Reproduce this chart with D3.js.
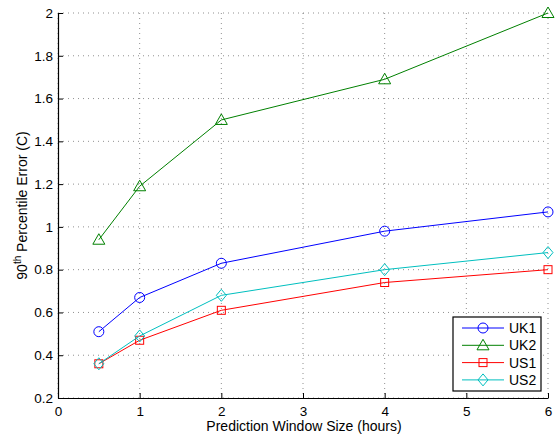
<!DOCTYPE html>
<html><head><meta charset="utf-8">
<script src="https://cdn.jsdelivr.net/npm/d3@7"></script>
<style>body{margin:0;background:#fff}svg{display:block}text{font-family:"Liberation Sans",Arial,sans-serif}</style>
</head><body><svg id="c" width="560" height="437"></svg>
<script>
const xValues = [0.5, 1, 2, 4, 6];
const seriesNames = ["UK1", "UK2", "US1", "US2"];
const uk1 = [0.51, 0.67, 0.83, 0.98, 1.07];
const uk2 = [0.94, 1.19, 1.50, 1.69, 2.00];
const us1 = [0.36, 0.47, 0.61, 0.74, 0.80];
const us2 = [0.36, 0.49, 0.68, 0.80, 0.88];
const xTicks = [0, 1, 2, 3, 4, 5, 6];
const yTicks = [0.2, 0.4, 0.6, 0.8, 1, 1.2, 1.4, 1.6, 1.8, 2];
const colors = ["#0000ff", "#008000", "#ff0000", "#00bfbf"];
const markers = ["circle", "triangle", "square", "diamond"];
const allSeries = [uk1, uk2, us1, us2];

const svg = d3.select("#c");
const L = 58, R = 548, T = 13, B = 398;
const x = d3.scaleLinear().domain([0, 6]).range([L, R]);
const y = d3.scaleLinear().domain([0.2, 2]).range([B, T]);
const FS = 14, TFS = 13.5;

// grid
const g = svg.append("g");
g.selectAll("line.gx").data(xTicks).enter().append("line")
  .attr("x1", d => x(d)).attr("x2", d => x(d)).attr("y1", T).attr("y2", B)
  .attr("stroke", "#444").attr("stroke-width", 0.6).attr("stroke-dasharray", "1,4");
g.selectAll("line.gy").data(yTicks).enter().append("line")
  .attr("x1", L).attr("x2", R).attr("y1", d => y(d)).attr("y2", d => y(d))
  .attr("stroke", "#444").attr("stroke-width", 0.6).attr("stroke-dasharray", "1,4");

// axes
const xAxis = d3.axisBottom(x).tickValues(xTicks).tickSizeInner(-5).tickSizeOuter(0).tickPadding(8).tickFormat(d3.format("d"));
const yAxis = d3.axisLeft(y).tickValues(yTicks).tickSizeInner(-5).tickSizeOuter(0).tickPadding(5).tickFormat(d => d3.format("~g")(d));
const gx = svg.append("g").attr("transform", `translate(0,${B})`).call(xAxis);
const gy = svg.append("g").attr("transform", `translate(${L},0)`).call(yAxis);
[gx, gy].forEach(a => {
  a.select(".domain").attr("stroke", "#000").attr("stroke-width", 1.2);
  a.selectAll(".tick line").attr("stroke", "#000");
  a.selectAll("text").attr("font-size", TFS).attr("fill", "#000").attr("font-family", '"Liberation Sans",Arial,sans-serif');
});

// labels
svg.append("text").attr("x", 304).attr("y", 431).attr("text-anchor", "middle")
  .attr("font-size", FS).text("Prediction Window Size (hours)");
const yl = svg.append("text").attr("transform", `translate(27,${(T + B) / 2}) rotate(-90)`)
  .attr("text-anchor", "middle").attr("font-size", FS);
yl.append("tspan").text("90");
yl.append("tspan").attr("dy", -6).attr("font-size", 10).text("th");
yl.append("tspan").attr("dy", 6).text(" Percentile Error (C)");

function drawMarker(sel, type, color) {
  if (type === "circle") sel.append("circle").attr("r", 5).attr("fill", "none").attr("stroke", color);
  else if (type === "triangle") sel.append("path").attr("d", "M0,-6L6,4.5L-6,4.5Z").attr("fill", "none").attr("stroke", color);
  else if (type === "square") sel.append("rect").attr("x", -4).attr("y", -4).attr("width", 8).attr("height", 8).attr("fill", "none").attr("stroke", color);
  else sel.append("path").attr("d", "M0,-6L5,0L0,6L-5,0Z").attr("fill", "none").attr("stroke", color);
}

const line = d3.line().x((d, i) => x(xValues[i])).y(d => y(d));
allSeries.forEach((s, k) => {
  svg.append("path").datum(s).attr("d", line).attr("fill", "none").attr("stroke", colors[k]).attr("stroke-width", 1);
  s.forEach((v, i) => {
    const m = svg.append("g").attr("transform", `translate(${x(xValues[i])},${y(v)})`);
    drawMarker(m, markers[k], colors[k]);
  });
});

// legend
const lg = svg.append("g");
lg.append("rect").attr("x", 453).attr("y", 317).attr("width", 88).attr("height", 74)
  .attr("fill", "#fff").attr("stroke", "#000").attr("stroke-width", 1.2);
seriesNames.forEach((n, k) => {
  const yy = 328 + k * 17.3;
  lg.append("line").attr("x1", 462).attr("x2", 504).attr("y1", yy).attr("y2", yy).attr("stroke", colors[k]);
  const m = lg.append("g").attr("transform", `translate(483,${yy})`);
  drawMarker(m, markers[k], colors[k]);
  lg.append("text").attr("x", 509).attr("y", yy + 5).attr("font-size", FS).text(n);
});
</script></body></html>
